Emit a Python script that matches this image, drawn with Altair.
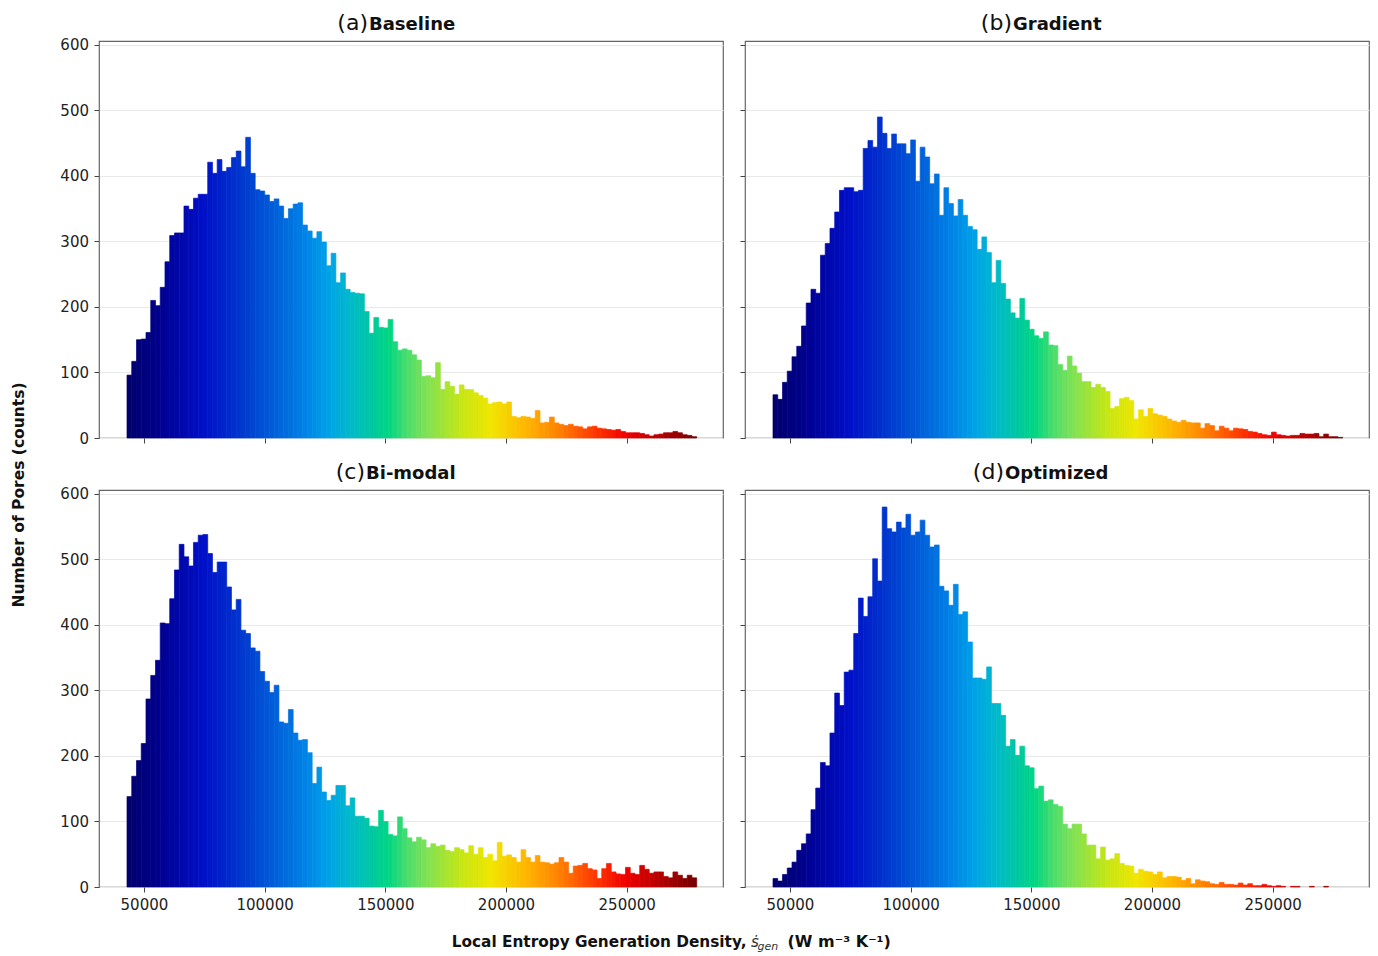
import altair as alt
import numpy as np
import pandas as pd

# ---------------- data ----------------
bin_start = 43000
bin_end = 279000
n_bins = 120

counts_a = [96, 117, 150, 151, 161, 210, 202, 230, 269, 309, 313, 313, 354, 349, 366, 372, 372, 421, 404, 425,
            407, 413, 428, 438, 414, 459, 404, 379, 377, 371, 361, 365, 354, 335, 350, 357, 359, 325, 316, 305,
            315, 299, 263, 282, 237, 252, 227, 222, 221, 220, 193, 160, 184, 169, 168, 181, 147, 134, 136, 134,
            127, 119, 94, 95, 92, 115, 74, 86, 79, 67, 81, 74, 74, 69, 65, 61, 52, 54, 55, 52,
            55, 33, 31, 33, 32, 30, 42, 23, 24, 32, 23, 21, 19, 21, 18, 17, 14, 17, 18, 15,
            14, 13, 12, 13, 10, 8, 8, 8, 7, 5, 3, 5, 6, 8, 8, 10, 8, 5, 4, 2]

counts_b = [66, 59, 85, 102, 124, 140, 171, 206, 227, 221, 279, 297, 320, 345, 378, 382, 382, 376, 378, 442,
            454, 444, 490, 465, 442, 464, 449, 449, 434, 455, 392, 444, 429, 388, 403, 340, 382, 358, 339, 364,
            340, 323, 318, 288, 307, 283, 237, 271, 236, 212, 191, 183, 213, 180, 166, 156, 152, 162, 142, 141,
            112, 103, 125, 110, 99, 86, 86, 77, 82, 77, 71, 45, 48, 60, 62, 57, 29, 43, 33, 45,
            37, 35, 33, 29, 26, 24, 27, 24, 23, 23, 15, 22, 19, 11, 18, 15, 11, 15, 14, 13,
            10, 9, 7, 5, 4, 9, 5, 4, 3, 4, 4, 7, 6, 6, 7, 2, 6, 2, 2, 1]

counts_c = [138, 169, 193, 219, 287, 323, 346, 403, 402, 440, 484, 523, 504, 490, 526, 537, 538, 509, 480, 496,
            496, 458, 423, 439, 392, 387, 365, 360, 329, 314, 297, 308, 252, 250, 271, 235, 224, 225, 205, 158,
            183, 145, 132, 140, 155, 155, 124, 136, 108, 108, 105, 93, 92, 117, 100, 80, 78, 107, 89, 75,
            69, 76, 72, 60, 66, 62, 64, 56, 54, 60, 57, 52, 63, 50, 60, 45, 50, 40, 68, 47,
            49, 45, 38, 57, 45, 38, 48, 38, 37, 35, 37, 45, 38, 21, 32, 33, 36, 28, 26, 13,
            28, 36, 23, 20, 19, 30, 21, 19, 33, 27, 21, 23, 23, 16, 14, 23, 18, 13, 18, 14]

counts_d = [13, 9, 19, 29, 38, 56, 66, 81, 118, 151, 190, 185, 235, 296, 277, 328, 331, 387, 441, 413,
            443, 501, 467, 580, 547, 542, 557, 548, 569, 537, 542, 560, 537, 519, 522, 459, 452, 430, 462, 416,
            420, 374, 319, 319, 317, 336, 280, 280, 262, 215, 225, 201, 215, 185, 182, 150, 154, 131, 133, 126,
            123, 96, 89, 96, 96, 81, 64, 64, 43, 61, 41, 43, 51, 36, 33, 32, 21, 27, 24, 23,
            19, 23, 14, 16, 16, 15, 10, 13, 5, 11, 9, 8, 5, 4, 7, 4, 4, 3, 6, 3,
            5, 2, 2, 4, 2, 1, 2, 1, 0, 1, 1, 0, 0, 1, 0, 0, 1, 0, 0, 0]

panel_labels = ["(a)", "(b)", "(c)", "(d)"]
panel_names = ["Baseline", "Gradient", "Bi-modal", "Optimized"]
x_ticks = [50000, 100000, 150000, 200000, 250000]
y_ticks = [0, 100, 200, 300, 400, 500, 600]

# colormap stops (jet-like, as seen in the picture)
cmap_t = [0.0, 0.05, 0.13, 0.19, 0.25, 0.31, 0.35, 0.39, 0.43, 0.46, 0.49, 0.52,
          0.59, 0.64, 0.705, 0.76, 0.82, 0.88, 0.94, 1.0]
cmap_r = [0, 0, 0, 0, 0, 0, 0, 0, 0, 0, 70, 120, 200, 240, 255, 255, 255, 240, 180, 120]
cmap_g = [0, 0, 15, 50, 90, 130, 160, 185, 200, 215, 220, 225, 230, 230, 180, 130, 60, 0, 0, 0]
cmap_b = [110, 140, 200, 205, 215, 230, 232, 205, 160, 130, 110, 90, 20, 0, 0, 0, 0, 0, 0, 0]

W, H = 624, 397
X_DOMAIN = [31400, 289900]
Y_DOMAIN = [0, 606]


def make_df(counts):
    edges = np.linspace(bin_start, bin_end, n_bins + 1)
    centers = (edges[:-1] + edges[1:]) / 2
    t = (centers - centers[0]) / (centers[-1] - centers[0])
    cols = []
    for ti in t:
        r = int(round(np.interp(ti, cmap_t, cmap_r)))
        g = int(round(np.interp(ti, cmap_t, cmap_g)))
        b = int(round(np.interp(ti, cmap_t, cmap_b)))
        cols.append("#%02x%02x%02x" % (r, g, b))
    df = pd.DataFrame({"x0": edges[:-1], "x1": edges[1:], "n": counts,
                       "z": np.zeros(n_bins), "c": cols})
    return df[df["n"] > 0]


def panel(counts, label, name, jx, bottom, left, extra=()):
    df = make_df(counts)
    bars = alt.Chart(df).mark_bar(strokeWidth=0.7).encode(
        x=alt.X("x0:Q", scale=alt.Scale(domain=X_DOMAIN, nice=False, zero=False),
                axis=alt.Axis(values=x_ticks, format="d", labels=bottom, grid=False,
                              domain=False, title=None)),
        x2="x1:Q",
        y=alt.Y("n:Q", scale=alt.Scale(domain=Y_DOMAIN, nice=False),
                axis=alt.Axis(values=y_ticks, labels=left, grid=True, domain=False, title=None)),
        y2="z:Q",
        color=alt.Color("c:N", scale=None),
        stroke=alt.Stroke("c:N", scale=None),
    )
    t1 = alt.Chart(pd.DataFrame({"t": [label]})).mark_text(
        align="right", baseline="alphabetic", fontSize=22, font="DejaVu Sans", color="#111"
    ).encode(x=alt.value(W / 2 + jx), y=alt.value(-11), text="t:N")
    t2 = alt.Chart(pd.DataFrame({"t": [name]})).mark_text(
        align="left", baseline="alphabetic", fontSize=18, font="DejaVu Sans", fontWeight="bold",
        color="#111"
    ).encode(x=alt.value(W / 2 + jx + 1), y=alt.value(-11), text="t:N")
    return alt.layer(bars, t1, t2, *extra).properties(width=W, height=H)


def txt(s, x, y, size=15.3, weight="bold", style="normal", align="left", angle=0, color="#111"):
    kw = dict(align=align, baseline="alphabetic", fontSize=size, font="DejaVu Sans",
              fontWeight=weight, fontStyle=style, color=color)
    if angle:
        kw["angle"] = angle
        kw["baseline"] = "middle"
    return alt.Chart(pd.DataFrame({"t": [s]})).mark_text(**kw).encode(
        x=alt.value(x), y=alt.value(y), text="t:N")


ytitle = txt("Number of Pores (counts)", -80, 454, size=15.5, align="center", angle=270)
xtitle = [
    txt("Local Entropy Generation Density,", 647.5, 457, align="right"),
    txt("\u1e61", 652, 457, size=15, weight="normal", style="italic", color="#333"),
    txt("gen", 658.5, 460, size=11, weight="normal", style="italic", color="#333"),
    txt("(W m\u207b\u00b3 K\u207b\u00b9)", 688.5, 457, size=16),
]

pa = panel(counts_a, panel_labels[0], panel_names[0], -43, False, True, (ytitle,))
pb = panel(counts_b, panel_labels[1], panel_names[1], -45, False, False)
pc = panel(counts_c, panel_labels[2], panel_names[2], -46, True, True, tuple(xtitle))
pd_ = panel(counts_d, panel_labels[3], panel_names[3], -53, True, False)

chart = alt.concat(pa, pb, pc, pd_, columns=2, spacing={"row": 52, "column": 22},
                   bounds="flush").properties(
    padding={"left": 3, "top": 3, "right": 0, "bottom": 0},
    background="white",
).configure_view(
    stroke="#666", strokeWidth=1.2
).configure_axis(
    labelFont="DejaVu Sans", labelFontSize=15, labelColor="#222",
    tickColor="#444", tickSize=5, tickWidth=1, labelPadding=5.5,
    gridColor="#e9e9e9", gridWidth=1,
)

chart.save("out.html", embed_options={"renderer": "svg", "actions": False})
